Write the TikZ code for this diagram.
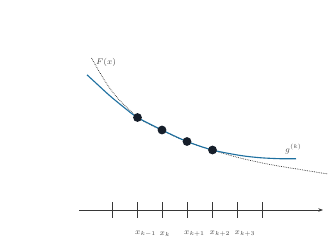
\documentclass[tikz,border=0pt]{standalone}
\usetikzlibrary{arrows.meta}
\definecolor{gblue}{RGB}{30,112,160}
\definecolor{axisgray}{RGB}{55,55,55}
\definecolor{dotnavy}{RGB}{22,30,42}
\definecolor{labgray}{RGB}{70,70,70}
\begin{document}
\begin{tikzpicture}[x=0.03cm,y=-0.03cm,
  fcurve/.style={dash pattern=on 0.6pt off 0.9pt,line width=0.6pt,black!85},
  gcurve/.style={line width=0.95pt,gblue},
  axisline/.style={line width=0.8pt,axisgray},
  tickline/.style={line width=0.8pt,axisgray},
  ptdot/.style={circle,fill=dotnavy,inner sep=0pt,minimum size=7.5pt},
  lab/.style={font=\fontsize{7}{8}\selectfont,text=labgray,inner sep=0pt}]
\useasboundingbox (0,0) rectangle (331,240);
% F(x)
\draw[fcurve] plot[smooth] coordinates {(91.5,58) (100,72.9) (110,88.6) (120,100.7) (130,110.4) (137.5,117.5) (150,124.6) (162,130.3) (175,136.6) (187,141.6) (200,146.2) (212.5,150.2) (240,158) (270,164.5) (300,169.5) (328,174)};
% g^(k)
\draw[gcurve] plot[smooth] coordinates {(87,74.8) (98.5,85.4) (110,95.9) (124,107.4) (137.5,117.5) (162,130) (187,141.5) (212.5,150) (240,155.4) (260,157.7) (280,158.7) (296,158.7)};
\node[lab,anchor=west] (Flab) at (96,62) {$F(x)$};
\node[lab,anchor=west] (glab) at (285,149) {$g^{(k)}$};
% points
\node[ptdot] (p1) at (137.5,117.5) {};
\node[ptdot] (p2) at (162,130) {};
\node[ptdot] (p3) at (187,141.5) {};
\node[ptdot] (p4) at (212.5,150) {};
% axis
\coordinate (a0) at (79,210);
\coordinate (a1) at (323,210);
\draw[axisline,-{Stealth[length=4pt,width=3pt]}] (a0) -- (a1);
\foreach \i/\x in {0/112,1/137,2/162,3/187,4/212,5/237,6/262}{
  \coordinate (t\i a) at (\x,202);
  \coordinate (t\i b) at (\x,218);
  \draw[tickline] (t\i a) -- (t\i b);
}
\node[lab,anchor=west] (l1) at (135,234) {$x_{k-1}$};
\node[lab,anchor=west] (l2) at (159.5,234) {$x_{k}$};
\node[lab,anchor=west] (l3) at (184,234) {$x_{k+1}$};
\node[lab,anchor=west] (l4) at (209.5,234) {$x_{k+2}$};
\node[lab,anchor=west] (l5) at (234.5,234) {$x_{k+3}$};
\end{tikzpicture}
\end{document}
